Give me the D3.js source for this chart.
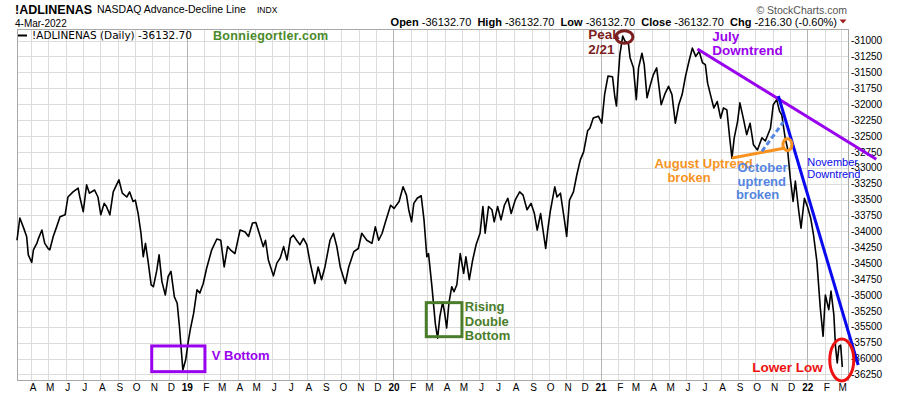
<!DOCTYPE html>
<meta charset="utf-8">
<head>
<title>!ADLINENAS</title>
<script src="https://cdn.jsdelivr.net/npm/d3@7"></script>
<style>
  body { margin: 0; background: #fff; }
  svg text { font-family: "Liberation Sans", Arial, sans-serif; }
</style>
</head>
<body>

<div id="chart"></div>

<script>

const width = 900;
const height = 396;

// daily close of the NASDAQ A/D line
const dates = [
  "2018-03-07","2018-03-12","2018-03-18","2018-03-24","2018-03-27","2018-04-02","2018-04-05","2018-04-11","2018-04-14","2018-04-20",
  "2018-04-25","2018-05-01","2018-05-04","2018-05-10","2018-05-16","2018-05-22","2018-05-31","2018-06-05","2018-06-14","2018-06-23",
  "2018-06-26","2018-07-02","2018-07-08","2018-07-13","2018-07-22","2018-07-28","2018-08-02","2018-08-08","2018-08-12","2018-08-18",
  "2018-08-24","2018-09-03","2018-09-09","2018-09-17","2018-09-22","2018-09-28","2018-10-02","2018-10-07","2018-10-12","2018-10-16",
  "2018-10-20","2018-10-25","2018-10-30","2018-11-03","2018-11-09","2018-11-13","2018-11-18","2018-11-24","2018-11-29","2018-12-04",
  "2018-12-10","2018-12-15","2018-12-19","2018-12-25","2018-12-30","2019-01-03","2019-01-07","2019-01-13","2019-01-19","2019-01-24",
  "2019-01-30","2019-02-05","2019-02-14","2019-02-23","2019-03-02","2019-03-08","2019-03-14","2019-03-19","2019-03-27","2019-04-05",
  "2019-04-14","2019-04-20","2019-04-27","2019-05-03","2019-05-10","2019-05-16","2019-05-20","2019-05-25","2019-06-03","2019-06-09",
  "2019-06-15","2019-06-21","2019-06-27","2019-07-03","2019-07-08","2019-07-14","2019-07-20","2019-07-26","2019-08-01","2019-08-07",
  "2019-08-15","2019-08-21","2019-08-27","2019-09-02","2019-09-11","2019-09-17","2019-09-23","2019-09-29","2019-10-08","2019-10-14",
  "2019-10-23","2019-10-31","2019-11-06","2019-11-15","2019-11-24","2019-11-30","2019-12-06","2019-12-12","2019-12-18","2019-12-27",
  "2020-01-02","2020-01-11","2020-01-18","2020-01-24","2020-01-28","2020-02-02","2020-02-06","2020-02-12","2020-02-19","2020-02-24",
  "2020-02-29","2020-03-03","2020-03-09","2020-03-15","2020-03-19","2020-03-23","2020-03-28","2020-03-31","2020-04-04","2020-04-08",
  "2020-04-13","2020-04-17","2020-04-22","2020-04-28","2020-05-04","2020-05-08","2020-05-14","2020-05-20","2020-05-26","2020-06-02",
  "2020-06-07","2020-06-11","2020-06-17","2020-06-23","2020-06-27","2020-07-03","2020-07-09","2020-07-15","2020-07-21","2020-07-27",
  "2020-08-03","2020-08-11","2020-08-17","2020-08-24","2020-08-31","2020-09-06","2020-09-11","2020-09-17","2020-09-22","2020-09-26",
  "2020-09-30","2020-10-04","2020-10-12","2020-10-16","2020-10-22","2020-10-29","2020-11-02","2020-11-07","2020-11-14","2020-11-20",
  "2020-11-26","2020-12-02","2020-12-06","2020-12-09","2020-12-13","2020-12-19","2020-12-28","2021-01-03","2021-01-08","2021-01-14",
  "2021-01-22","2021-01-26","2021-01-29","2021-02-01","2021-02-04","2021-02-09","2021-02-13","2021-02-19","2021-02-22","2021-02-28",
  "2021-03-05","2021-03-09","2021-03-15","2021-03-19","2021-03-24","2021-03-30","2021-04-04","2021-04-10","2021-04-18","2021-04-25",
  "2021-05-01","2021-05-07","2021-05-13","2021-05-19","2021-05-25","2021-05-31","2021-06-06","2021-06-12","2021-06-18","2021-06-24",
  "2021-06-30","2021-07-05","2021-07-09","2021-07-14","2021-07-20","2021-07-26","2021-08-01","2021-08-06","2021-08-12","2021-08-17",
  "2021-08-21","2021-08-25","2021-08-31","2021-09-04","2021-09-10","2021-09-16","2021-09-22","2021-09-28","2021-10-05","2021-10-13",
  "2021-10-19","2021-10-28","2021-11-02","2021-11-08","2021-11-13","2021-11-17","2021-11-23","2021-11-27","2021-12-02","2021-12-07",
  "2021-12-11","2021-12-17","2021-12-21","2021-12-27","2022-01-02","2022-01-07","2022-01-12","2022-01-18","2022-01-24","2022-01-29",
  "2022-02-02","2022-02-08","2022-02-12","2022-02-17","2022-02-20","2022-02-23","2022-02-26","2022-03-01","2022-03-04"
];

const values = [
  -34140,-33790,-33930,-34080,-34370,-34490,-34290,-34190,-34110,-33980,
  -34190,-34270,-34290,-34080,-33930,-33770,-33740,-33460,-33380,-33320,
  -33460,-33690,-33270,-33400,-33350,-33460,-33740,-33560,-33610,-33740,
  -33380,-33190,-33400,-33460,-33380,-33530,-33510,-33720,-34030,-34400,
  -34190,-34500,-34840,-34870,-34610,-34370,-34790,-35000,-34710,-34630,
  -35030,-35130,-35500,-36180,-36020,-35760,-35550,-35290,-34920,-34970,
  -34820,-34580,-34290,-34120,-34140,-34560,-34240,-34290,-34350,-33980,
  -34010,-34080,-33870,-33860,-34060,-34240,-34140,-34450,-34700,-34500,
  -34420,-34240,-34450,-34110,-34060,-34140,-34210,-34110,-34210,-34500,
  -34820,-34560,-34760,-34560,-34140,-34030,-34240,-34560,-34820,-34560,
  -34320,-34270,-34030,-34140,-34190,-33930,-34140,-34030,-33850,-33590,
  -33640,-33530,-33300,-33430,-33660,-33850,-33560,-33480,-33440,-33820,
  -34400,-34350,-34870,-35450,-35680,-35340,-35110,-35260,-35520,-35130,
  -34870,-34950,-34840,-34350,-34660,-34400,-34760,-34450,-34210,-34030,
  -33610,-34030,-33610,-33660,-33850,-33610,-33820,-33590,-33480,-33720,
  -33510,-33380,-33430,-33660,-33560,-33720,-33980,-33720,-34030,-34270,
  -33950,-33690,-33300,-33460,-33400,-33820,-34080,-33510,-33380,-33110,
  -32880,-32750,-32560,-32420,-32380,-32220,-32190,-32300,-31850,-31560,
  -31570,-31880,-32030,-31590,-31220,-30930,-31010,-31040,-31270,-31430,
  -31930,-31430,-31200,-31380,-31900,-31690,-31540,-31430,-32010,-31830,
  -31720,-31850,-32300,-32010,-31850,-31560,-31330,-31120,-31250,-31170,
  -31350,-31380,-31670,-31850,-32060,-31960,-32220,-32060,-32090,-32530,
  -32850,-32530,-32270,-31980,-32220,-32480,-32300,-32640,-32720,-32530,
  -32580,-32380,-32010,-31930,-32110,-32170,-32530,-32690,-33160,-33530,
  -33210,-33680,-33950,-33480,-33630,-33790,-34050,-34470,-35200,-35650,
  -35000,-35230,-34940,-35310,-35820,-36070,-35810,-35790,-36132.70
];

const yTickValues = [
  -31000,-31250,-31500,-31750,-32000,-32250,-32500,-32750,-33000,-33250,-33500,
  -33750,-34000,-34250,-34500,-34750,-35000,-35250,-35500,-35750,-36000,-36250
];

const monthLabels = [
  "A","M","J","J","A","S","O","N","D",
  "19","F","M","A","M","J","J","A","S","O","N","D",
  "20","F","M","A","M","J","J","A","S","O","N","D",
  "21","F","M","A","M","J","J","A","S","O","N","D",
  "22","F","M"
];

// hand drawn annotations, anchored to date / value
const trendLines = [
  { name: "july",     from: ["2021-06-21", -31133], to: ["2022-05-03", -32867], color: "#9900ee", dash: null },
  { name: "november", from: ["2021-11-11", -31872], to: ["2022-04-01", -36101], color: "#0a0aee", dash: null },
  { name: "august",   from: ["2021-08-21", -32847], to: ["2021-11-23", -32690], color: "#f7931e", dash: null },
  { name: "october",  from: ["2021-10-13", -32741], to: ["2021-11-20", -32281], color: "#5585e0", dash: "5,3" }
];

const ellipses = [
  { at: ["2021-02-12", -30945], rx: 8.5, ry: 6.3, color: "#7d1f1f" },
  { at: ["2021-11-27", -32638], rx: 4.5, ry: 6,   color: "#f7931e" },
  { at: ["2022-03-03", -36022], rx: 12,  ry: 21,  color: "#ee1111" }
];

const boxes = [
  { from: ["2018-10-31", -35802], to: ["2019-02-02", -36206], color: "#9900ee" },
  { from: ["2020-02-28", -35121], to: ["2020-05-01", -35656], color: "#4a7d2a" }
];

const labels = [
  { text: "Peak",           at: ["2020-12-10", -30984], color: "#7d1f1f", size: 13.5, bold: true },
  { text: "2/21",           at: ["2020-12-10", -31212], color: "#7d1f1f", size: 13.5, bold: true },
  { text: "July",           at: ["2021-07-17", -31008], color: "#9900ee", size: 13.5, bold: true },
  { text: "Downtrend",      at: ["2021-07-17", -31228], color: "#9900ee", size: 13.5, bold: true },
  { text: "August Uptrend", at: ["2021-04-06", -33004], color: "#f7931e", size: 13, bold: true },
  { text: "broken",         at: ["2021-04-29", -33224], color: "#f7931e", size: 13, bold: true },
  { text: "October",        at: ["2021-08-31", -33067], color: "#5585e0", size: 13, bold: true },
  { text: "uptrend",        at: ["2021-08-31", -33287], color: "#5585e0", size: 13, bold: true },
  { text: "broken",         at: ["2021-08-28", -33491], color: "#5585e0", size: 13, bold: true },
  { text: "November",       at: ["2022-01-01", -32973], color: "#0a0aee", size: 11, bold: false },
  { text: "Downtrend",      at: ["2022-01-01", -33161], color: "#0a0aee", size: 11, bold: false },
  { text: "V Bottom",       at: ["2019-02-14", -36022], color: "#9900ee", size: 13, bold: true },
  { text: "Rising",         at: ["2020-05-06", -35252], color: "#4a7d2a", size: 13, bold: true },
  { text: "Double",         at: ["2020-05-06", -35488], color: "#4a7d2a", size: 13, bold: true },
  { text: "Bottom",         at: ["2020-05-06", -35716], color: "#4a7d2a", size: 13, bold: true },
  { text: "Lower Low",      at: ["2021-09-26", -36219], color: "#ee1111", size: 13.5, bold: true }
];

const parse = d3.timeParse("%Y-%m-%d");
const series = dates.map((d, i) => ({ date: parse(d), value: values[i] }));

const plotLeft = 17, plotRight = 848, plotTop = 29, plotBottom = 380;

const x = d3.scaleTime()
  .domain([parse("2018-03-07"), parse("2022-03-14")])
  .range([plotLeft, plotRight]);

const y = d3.scaleLinear()
  .domain([-36337, -30819])
  .range([plotBottom, plotTop]);

const monthDates = d3.timeMonth.range(parse("2018-04-01"), parse("2022-03-02"));

const svg = d3.select("#chart")
  .append("svg")
  .attr("width", width)
  .attr("height", height)
  .attr("viewBox", [0, 0, width, height]);

// grid
const grid = svg.append("g");
grid.selectAll("line.h")
  .data(yTickValues)
  .join("line")
  .attr("class", "h")
  .attr("x1", plotLeft).attr("x2", plotRight)
  .attr("y1", d => Math.round(y(d)) + 0.5).attr("y2", d => Math.round(y(d)) + 0.5)
  .attr("stroke", "#dcdcdc");

grid.selectAll("line.v")
  .data(monthDates)
  .join("line")
  .attr("class", "v")
  .attr("x1", d => Math.round(x(d)) + 0.5).attr("x2", d => Math.round(x(d)) + 0.5)
  .attr("y1", plotTop).attr("y2", plotBottom)
  .attr("stroke", d => d.getMonth() === 0 ? "#b4b4b4" : "#dcdcdc");

svg.append("rect")
  .attr("x", plotLeft + 0.5).attr("y", plotTop + 0.5)
  .attr("width", plotRight - plotLeft).attr("height", plotBottom - plotTop)
  .attr("fill", "none")
  .attr("stroke", "#a8a8a8");

// axes
const yAxis = svg.append("g")
  .attr("transform", `translate(${plotRight},0)`)
  .call(d3.axisRight(y).tickValues(yTickValues).tickSize(0).tickPadding(3).tickFormat(d => String(d)));
yAxis.select(".domain").remove();
yAxis.selectAll("text").attr("font-size", 10).attr("fill", "#000")
  .style("font-family", "Liberation Sans, Arial, sans-serif");

const xAxis = svg.append("g")
  .attr("transform", `translate(0,${plotBottom})`)
  .call(d3.axisBottom(x).tickValues(monthDates).tickSize(0).tickPadding(4).tickFormat((d, i) => monthLabels[i]));
xAxis.select(".domain").remove();
xAxis.selectAll("text")
  .attr("font-size", 10).attr("fill", "#000")
  .attr("dx", (d, i) => monthLabels[i].length > 1 ? 0 : 1.5)
  .attr("font-weight", (d, i) => monthLabels[i].length > 1 ? "bold" : "normal")
  .style("font-family", "Liberation Sans, Arial, sans-serif");

// the A/D line
svg.append("path")
  .datum(series)
  .attr("fill", "none")
  .attr("stroke", "#000")
  .attr("stroke-width", 1.6)
  .attr("stroke-linejoin", "round")
  .attr("d", d3.line().x(d => x(d.date)).y(d => y(d.value)));

// annotations
const pt = a => [x(parse(a[0])), y(a[1])];

svg.append("g")
  .selectAll("line")
  .data(trendLines)
  .join("line")
  .attr("x1", d => pt(d.from)[0]).attr("y1", d => pt(d.from)[1])
  .attr("x2", d => pt(d.to)[0]).attr("y2", d => pt(d.to)[1])
  .attr("stroke", d => d.color)
  .attr("stroke-width", 3)
  .attr("stroke-dasharray", d => d.dash);

svg.append("g")
  .selectAll("ellipse")
  .data(ellipses)
  .join("ellipse")
  .attr("cx", d => pt(d.at)[0]).attr("cy", d => pt(d.at)[1])
  .attr("rx", d => d.rx).attr("ry", d => d.ry)
  .attr("fill", "none")
  .attr("stroke", d => d.color)
  .attr("stroke-width", 3);

svg.append("g")
  .selectAll("rect")
  .data(boxes)
  .join("rect")
  .attr("x", d => pt(d.from)[0]).attr("y", d => pt(d.from)[1])
  .attr("width", d => pt(d.to)[0] - pt(d.from)[0])
  .attr("height", d => pt(d.to)[1] - pt(d.from)[1])
  .attr("fill", "none")
  .attr("stroke", d => d.color)
  .attr("stroke-width", 3);

svg.append("g")
  .selectAll("text")
  .data(labels)
  .join("text")
  .attr("x", d => pt(d.at)[0]).attr("y", d => pt(d.at)[1])
  .attr("fill", d => d.color)
  .attr("font-size", d => d.size)
  .attr("font-weight", d => d.bold ? "bold" : "normal")
  .text(d => d.text);

// header
svg.append("text")
  .attr("x", 15).attr("y", 13.5)
  .attr("font-size", 12.5).attr("font-weight", "bold")
  .text("!ADLINENAS");
svg.append("text")
  .attr("x", 97).attr("y", 13)
  .attr("font-size", 10.5)
  .text("NASDAQ Advance-Decline Line");
svg.append("text")
  .attr("x", 257).attr("y", 13)
  .attr("font-size", 8.5)
  .text("INDX");
svg.append("text")
  .attr("x", 15).attr("y", 26.5)
  .attr("font-size", 10)
  .text("4-Mar-2022");

svg.append("text")
  .attr("x", 847).attr("y", 13.5)
  .attr("text-anchor", "end")
  .attr("font-size", 10.5).attr("fill", "#555")
  .text("\u00a9 StockCharts.com");

const quote = [["Open", "-36132.70"], ["High", "-36132.70"], ["Low", "-36132.70"], ["Close", "-36132.70"], ["Chg", "-216.30 (-0.60%)"]];
const qt = svg.append("text")
  .attr("x", 837).attr("y", 26)
  .attr("text-anchor", "end")
  .attr("font-size", 11);
quote.forEach((q, i) => {
  qt.append("tspan").attr("font-weight", "bold").text((i ? "\u00a0\u00a0" : "") + q[0]);
  qt.append("tspan").text(" " + q[1]);
});
svg.append("path")
  .attr("d", "M839.5,19.5 L846.5,19.5 L843,23.5 Z")
  .attr("fill", "#a01c1c");

// legend inside plot
svg.append("line")
  .attr("x1", 18).attr("x2", 27).attr("y1", 35.5).attr("y2", 35.5)
  .attr("stroke", "#000").attr("stroke-width", 2);
svg.append("text")
  .attr("x", 32).attr("y", 39)
  .attr("font-size", 10.5)
  .style("font-family", "DejaVu Sans, Verdana, sans-serif")
  .text("!ADLINENAS (Daily) -36132.70");
svg.append("text")
  .attr("x", 213).attr("y", 39.5)
  .attr("font-size", 12.5).attr("font-weight", "bold")
  .attr("fill", "#4a8a2a")
  .style("letter-spacing", "0.3px")
  .text("Bonniegortler.com");

</script>

</body>
